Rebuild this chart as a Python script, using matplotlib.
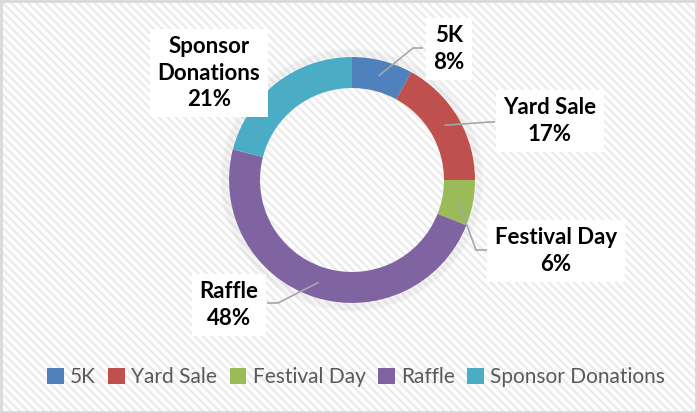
import numpy as np
import matplotlib
matplotlib.use('Agg')
import matplotlib.pyplot as plt
from matplotlib.patches import Rectangle

# Chart data
categories = ['5K', 'Yard Sale', 'Festival Day', 'Raffle', 'Sponsor Donations']
shares = [8, 17, 6, 48, 21]
colors = ['#4F81BD', '#C0504D', '#9BBB59', '#8064A2', '#4BACC6']
label_text = ['5K\n8%', 'Yard Sale\n17%', 'Festival Day\n6%', 'Raffle\n48%', 'Sponsor\nDonations\n21%']

W, H = 697, 413
plt.rcParams['font.family'] = ['Lato', 'DejaVu Sans']
plt.rcParams['hatch.linewidth'] = 1.8

fig = plt.figure(figsize=(W / 100, H / 100), dpi=100)
ax = fig.add_axes([0, 0, 1, 1])
ax.set_xlim(0, W)
ax.set_ylim(0, H)
ax.axis('off')

# striped background + border
ax.add_patch(Rectangle((0, 0), W, H, facecolor='white', edgecolor='#ececec',
                       hatch='\\\\\\\\', lw=0, zorder=0))
ax.add_patch(Rectangle((1, 1), W - 2, H - 2, facecolor='none', edgecolor='#d9d9d9',
                       lw=2, zorder=10))

cx, cy, R, ring = 352, H - 180, 123, 31

# soft shadow round the ring
for k in range(5):
    ax.add_patch(plt.Circle((cx, cy), R + 1 + k * 1.5, facecolor='none',
                            edgecolor='#b0b0b0', lw=2, alpha=0.07, zorder=1))

wedges, _ = ax.pie(shares, colors=colors, startangle=90, counterclock=False,
                   radius=R, center=(cx, cy), frame=True,
                   wedgeprops=dict(width=ring, edgecolor='none'))
for w in wedges:
    w.set_zorder(2)
ax.set_xlim(0, W)
ax.set_ylim(0, H)
ax.axis('off')

# label boxes (pixel positions, y from top) and leader elbows
label_pos = [(449, 49), (550, 121), (556, 251), (229, 305), (209, 73)]
elbows = [((413, 48), (423, 48)), ((490, 122), (495, 122)),
          ((476, 250), (488, 250)), ((278, 303), (267, 303)), None]

cum = np.cumsum([0] + shares[:-1])
for i, (lab, pos) in enumerate(zip(label_text, label_pos)):
    mid = np.deg2rad(90 - (cum[i] + shares[i] / 2) / sum(shares) * 360)
    rm = R - ring / 2
    px, py = cx + rm * np.cos(mid), cy + rm * np.sin(mid)
    if elbows[i] is not None:
        (ex, ey), (bx, by) = elbows[i]
        ax.plot([px, ex, bx], [py, H - ey, H - by], color='#a6a6a6', lw=1.2,
                zorder=3, solid_capstyle='butt')
    ax.text(pos[0], H - pos[1], lab, ha='center', va='center', fontsize=16,
            fontweight='bold', color='black', linespacing=1.3, zorder=5,
            bbox=dict(boxstyle='square,pad=0.35', facecolor='white', edgecolor='none'))

leg = ax.legend(wedges, categories, loc='center', ncol=5,
                bbox_to_anchor=(356 / W, 1 - 377 / H), frameon=False,
                fontsize=15, handlelength=0.8, handleheight=0.8,
                handletextpad=0.3, columnspacing=0.6, borderpad=0.2)
for t in leg.get_texts():
    t.set_color('#595959')

fig.savefig('out.png', dpi=100)
